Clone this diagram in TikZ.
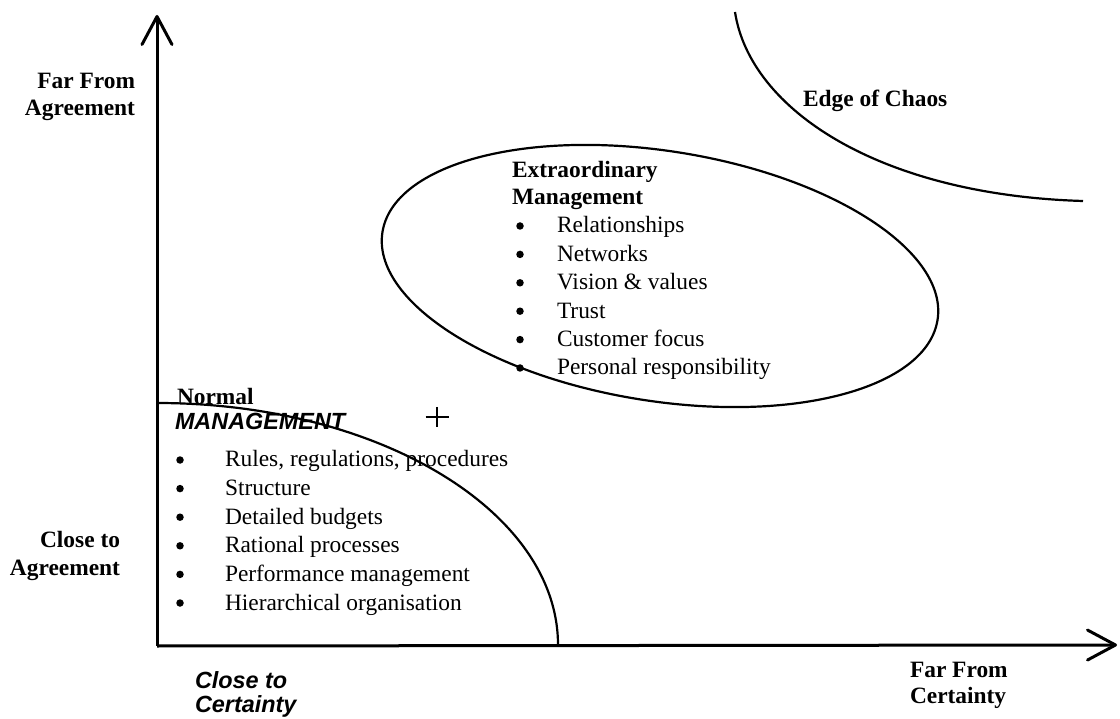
\documentclass[tikz,border=0pt]{standalone}
\usepackage{fontspec}
\setmainfont{Liberation Serif}
\newfontfamily\arialfont{Liberation Sans}
\usetikzlibrary{arrows.meta}
\begin{document}
\begin{tikzpicture}[x=1pt,y=-1pt,
  every node/.style={inner sep=0pt, outer sep=0pt},
  txt/.style={font=\fontsize{23.4}{28}\selectfont, anchor=base west},
  boldlbl/.style={font=\fontsize{23.4}{28}\selectfont\bfseries},
  sansbi/.style={font=\fontsize{23.4}{28}\selectfont\arialfont\bfseries\itshape, anchor=base west},
  bulletdot/.style={circle, fill=black, minimum size=7.5pt},
  axis/.style={line width=3pt, -{Straight Barb[length=28pt,width=30pt,round]}},
  curve/.style={line width=2.2pt},
  plusmark/.style={line width=2.4pt}]
\useasboundingbox (0,0) rectangle (1120,719);

% axes
\coordinate (O) at (157,646);
\coordinate (ytip) at (157,15);
\coordinate (xtip) at (1117,645);
\draw[axis] (O) -- (ytip);
\draw[axis] (O) -- (xtip);

% axis labels
\node[boldlbl, anchor=base east] (farA1) at (135,89) {Far From};
\node[boldlbl, anchor=base east] (farA2) at (135,116) {Agreement};
\node[boldlbl, anchor=base east] (closeA1) at (120,547) {Close to};
\node[boldlbl, anchor=base east] (closeA2) at (120,575) {Agreement};
\node[boldlbl, anchor=base west] (farC1) at (910,677) {Far From};
\node[boldlbl, anchor=base west] (farC2) at (910,703) {Certainty};
\node[sansbi] (closeC1) at (195,688) {Close to};
\node[sansbi] (closeC2) at (195,712) {Certainty};

% edge of chaos
\coordinate (chaosA) at (735,12);
\coordinate (chaosB) at (1083,201);
\draw[curve] (chaosA) .. controls (750,110) and (880,195) .. (chaosB);
\node[boldlbl, anchor=base west] (chaos) at (803,107) {Edge of Chaos};

% extraordinary management
\coordinate (ec) at (660,276);
\draw[curve, rotate around={-9:(ec)}] (ec) ellipse [x radius=281pt, y radius=125pt];
\node[boldlbl, anchor=base west] (ex1) at (512,178) {Extraordinary};
\node[boldlbl, anchor=base west] (ex2) at (512,205) {Management};
\foreach \t [count=\i from 0] in {Relationships, Networks, Vision \& values, Trust, Customer focus, Personal responsibility}{
  \node[bulletdot] (exb\i) at (520,226+28.4*\i) {};
  \node[txt] (ext\i) at (557,233+28.4*\i) {\t};
}

% normal management
\node[boldlbl, anchor=base west] (nm1) at (177,405) {Normal};
\node[sansbi] (nm2) at (175,429) {MANAGEMENT};
\foreach \t [count=\i from 0] in {{Rules, regulations, procedures}, Structure, Detailed budgets, Rational processes, Performance management, Hierarchical organisation}{
  \node[bulletdot] (nmb\i) at (180,460+28.6*\i) {};
  \node[txt] (nmt\i) at (225,467+28.6*\i) {\t};
}
\coordinate (nstart) at (157,403);
\draw[curve] (nstart) arc[start angle=90, end angle=0, x radius=401pt, y radius=242pt];

% plus mark
\coordinate (plus) at (437,417);
\draw[plusmark] (plus) ++(-11.5,0) -- ++(23,0);
\draw[plusmark] (plus) ++(0,-10) -- ++(0,20);
\end{tikzpicture}
\end{document}
